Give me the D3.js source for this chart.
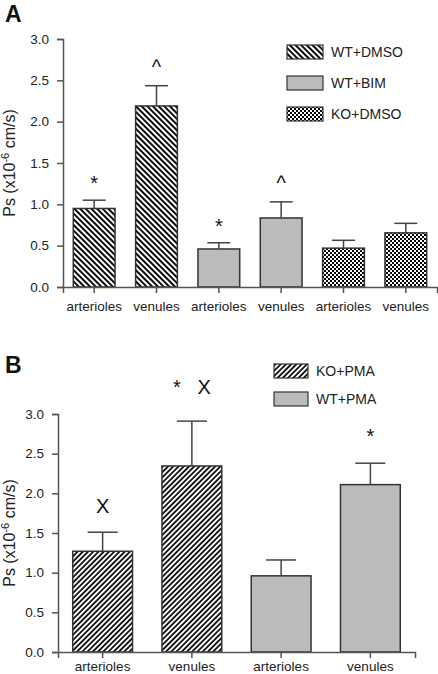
<!DOCTYPE html>
<html><head><meta charset="utf-8">
<script src="https://cdn.jsdelivr.net/npm/d3@7"></script>
<style>body{margin:0;background:#fff}svg{display:block}text{font-family:"Liberation Sans",Arial,sans-serif}</style>
</head><body>
<div id="chart"></div>
<script>
// Panel A data
const catsA = ["arterioles","venules","arterioles","venules","arterioles","venules"];
const groupsA = ["WT+DMSO","WT+DMSO","WT+BIM","WT+BIM","KO+DMSO","KO+DMSO"];
const valuesA = [0.95, 2.19, 0.46, 0.835, 0.47, 0.655];
const errorsA = [0.10, 0.245, 0.075, 0.195, 0.095, 0.115];
const marksA = ["*", "^", "*", "^", "", ""];
const legendA = ["WT+DMSO","WT+BIM","KO+DMSO"];
// Panel B data
const catsB = ["arterioles","venules","arterioles","venules"];
const groupsB = ["KO+PMA","KO+PMA","WT+PMA","WT+PMA"];
const valuesB = [1.27, 2.345, 0.96, 2.11];
const errorsB = [0.24, 0.565, 0.2, 0.27];
const marksB = ["X", "*   X", "", "*"];
const legendB = ["KO+PMA","WT+PMA"];
const yTicks = [0, 0.5, 1.0, 1.5, 2.0, 2.5, 3.0];

const W = 438, H = 674;
const svg = d3.select("#chart").append("svg").attr("width", W).attr("height", H);
const defs = svg.append("defs");

// patterns
const p1 = defs.append("pattern").attr("id","diagBack").attr("patternUnits","userSpaceOnUse")
  .attr("width",4).attr("height",4).attr("patternTransform","rotate(-45)");
p1.append("rect").attr("width",4).attr("height",4).attr("fill","#fff");
p1.append("line").attr("x1",1).attr("y1",-1).attr("x2",1).attr("y2",5).attr("stroke","#000").attr("stroke-width",1.9);

const p2 = defs.append("pattern").attr("id","diagFwd").attr("patternUnits","userSpaceOnUse")
  .attr("width",3.7).attr("height",3.7).attr("patternTransform","rotate(45)");
p2.append("rect").attr("width",3.7).attr("height",3.7).attr("fill","#fff");
p2.append("line").attr("x1",1).attr("y1",-1).attr("x2",1).attr("y2",5).attr("stroke","#000").attr("stroke-width",1.7);

const p3 = defs.append("pattern").attr("id","checker").attr("patternUnits","userSpaceOnUse")
  .attr("width",4).attr("height",4);
p3.append("rect").attr("width",4).attr("height",4).attr("fill","#000");
p3.append("rect").attr("x",0).attr("y",0).attr("width",2).attr("height",2).attr("fill","#fff");
p3.append("rect").attr("x",2).attr("y",2).attr("width",2).attr("height",2).attr("fill","#fff");

const fills = {
  "WT+DMSO":"url(#diagBack)", "WT+BIM":"#bbbbbb", "KO+DMSO":"url(#checker)",
  "KO+PMA":"url(#diagFwd)", "WT+PMA":"#bbbbbb"
};

const axisColor = "#555", barStroke = "#333";

function panel(cfg) {
  const g = svg.append("g");
  const x = d3.scaleBand().domain(d3.range(cfg.values.length)).range([cfg.x0, cfg.x1])
    .paddingInner(0.33).paddingOuter(0.165);
  const y = d3.scaleLinear().domain([0, 3]).range([cfg.y0, cfg.y1]);

  // bars
  g.selectAll("rect.bar").data(cfg.values).join("rect").attr("class","bar")
    .attr("x",(d,i)=>x(i)).attr("width",x.bandwidth())
    .attr("y",d=>y(d)).attr("height",d=>y(0)-y(d))
    .attr("fill",(d,i)=>fills[cfg.groups[i]]).attr("stroke",barStroke).attr("stroke-width",1.5);

  // error bars
  const capW = cfg.capW;
  cfg.values.forEach((v,i)=>{
    const cx = x(i)+x.bandwidth()/2;
    const top = y(v+cfg.errors[i]);
    g.append("line").attr("x1",cx).attr("x2",cx).attr("y1",y(v)).attr("y2",top)
      .attr("stroke","#444").attr("stroke-width",1.5);
    g.append("line").attr("x1",cx-capW).attr("x2",cx+capW).attr("y1",top).attr("y2",top)
      .attr("stroke","#444").attr("stroke-width",1.5);
    if (cfg.marks[i]) {
      g.append("text").attr("x",cx).attr("y",top-cfg.markOff[i])
        .attr("text-anchor","middle").attr("font-size",cfg.markSize)
        .style("white-space","pre").attr("fill","#111").text(cfg.marks[i]);
    }
  });

  // y axis
  const ya = g.append("g").attr("transform",`translate(${cfg.x0},0)`)
    .call(d3.axisLeft(y).tickValues(yTicks).tickFormat(d3.format(".1f")).tickSizeOuter(0).tickSize(6).tickPadding(8));
  ya.select(".domain").attr("stroke",axisColor).attr("stroke-width",1.5);
  ya.selectAll(".tick line").attr("stroke",axisColor).attr("stroke-width",1.5);
  ya.selectAll(".tick text").attr("font-size",13.5).attr("fill","#222").attr("font-family","Liberation Sans, Arial, sans-serif");

  // x axis
  const xa = g.append("g").attr("transform",`translate(0,${cfg.y0})`)
    .call(d3.axisBottom(x).tickFormat(i=>cfg.cats[i]).tickSizeOuter(0).tickSize(6).tickPadding(cfg.xPad));
  xa.select(".domain").attr("stroke",axisColor).attr("stroke-width",1.5);
  xa.selectAll(".tick line").attr("stroke",axisColor).attr("stroke-width",1.5);
  xa.selectAll(".tick text").attr("font-size",13.5).attr("fill","#222").attr("font-family","Liberation Sans, Arial, sans-serif");

  // y label
  const lab = g.append("text").attr("transform",`translate(${cfg.labX},${cfg.labY}) rotate(-90)`)
    .attr("text-anchor","middle").attr("font-size",16).attr("fill","#222");
  lab.append("tspan").text("Ps (x10");
  lab.append("tspan").attr("dy",-6).attr("font-size",11).text("-6");
  lab.append("tspan").attr("dy",6).text(" cm/s)");

  // panel letter
  g.append("text").attr("x",cfg.letterX).attr("y",cfg.letterY).attr("font-size",23)
    .attr("font-weight","bold").attr("fill","#111").text(cfg.letter);

  // legend
  cfg.legend.forEach((name,i)=>{
    const ly = cfg.legY + i*cfg.legStep;
    g.append("rect").attr("x",cfg.legX).attr("y",ly).attr("width",cfg.legW).attr("height",cfg.legH)
      .attr("fill",fills[name]).attr("stroke",barStroke).attr("stroke-width",1.2);
    g.append("text").attr("x",cfg.legX+cfg.legW+8).attr("y",ly+cfg.legH/2).attr("dy","0.36em")
      .attr("font-size",14).attr("fill","#222").text(name);
  });
}

panel({values:valuesA, errors:errorsA, cats:catsA, groups:groupsA, marks:marksA,
  markOff:[10,12,10,12,0,0], markSize:20, xPad:8,
  x0:63, x1:437, y0:287, y1:39, capW:11.5,
  labX:15, labY:163, letter:"A", letterX:5, letterY:22,
  legend:legendA, legX:287, legY:45, legStep:31, legW:36, legH:14});

panel({values:valuesB, errors:errorsB, cats:catsB, groups:groupsB, marks:marksB,
  markOff:[19,27,0,20], markSize:20, xPad:3,
  x0:58, x1:415, y0:652, y1:414, capW:15,
  labX:15, labY:533, letter:"B", letterX:5, letterY:373,
  legend:legendB, legX:274, legY:364, legStep:28, legW:34, legH:14});
</script>
</body></html>
